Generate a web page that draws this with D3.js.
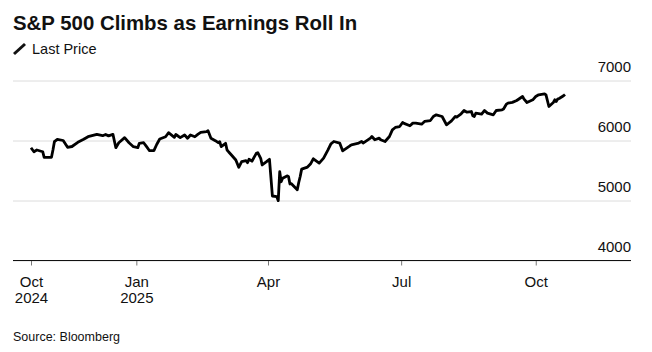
<!DOCTYPE html>
<html>
<head>
<meta charset="utf-8">
<script src="https://cdn.jsdelivr.net/npm/d3@7"></script>
<style>
  body { margin: 0; background: #fff; }
  svg text { font-family: "Liberation Sans", Arial, sans-serif; fill: #111; }
</style>
</head>
<body>
<div id="chart"></div>
<script>
// S&P 500 last price
const dates = [
  "2024-10-21","2024-10-23","2024-10-25","2024-10-29","2024-10-30","2024-11-04","2024-11-05","2024-11-06",
  "2024-11-08","2024-11-12","2024-11-15","2024-11-18","2024-11-22","2024-11-26","2024-11-29","2024-12-05",
  "2024-12-09","2024-12-11","2024-12-13","2024-12-16","2024-12-18","2024-12-20","2024-12-24","2024-12-27",
  "2024-12-30","2025-01-02","2025-01-03","2025-01-06","2025-01-08","2025-01-10","2025-01-13","2025-01-15",
  "2025-01-17","2025-01-21","2025-01-23","2025-01-27","2025-01-28","2025-01-31","2025-02-03","2025-02-05",
  "2025-02-07","2025-02-10","2025-02-12","2025-02-14","2025-02-18","2025-02-19","2025-02-21","2025-02-24",
  "2025-02-26","2025-02-27","2025-02-28","2025-03-03","2025-03-04","2025-03-05","2025-03-07","2025-03-10",
  "2025-03-12","2025-03-14","2025-03-17","2025-03-18","2025-03-19","2025-03-21","2025-03-24","2025-03-25",
  "2025-03-27","2025-03-28","2025-03-31","2025-04-02","2025-04-03","2025-04-04","2025-04-07","2025-04-08",
  "2025-04-09","2025-04-10","2025-04-11","2025-04-14","2025-04-15","2025-04-16","2025-04-17","2025-04-21",
  "2025-04-22","2025-04-23","2025-04-24","2025-04-28","2025-04-30","2025-05-02","2025-05-06","2025-05-09",
  "2025-05-12","2025-05-14","2025-05-16","2025-05-20","2025-05-22","2025-05-27","2025-05-28","2025-06-02",
  "2025-06-04","2025-06-05","2025-06-09","2025-06-10","2025-06-11","2025-06-13","2025-06-16","2025-06-17",
  "2025-06-20","2025-06-23","2025-06-25","2025-06-27","2025-06-30","2025-07-02","2025-07-03","2025-07-07",
  "2025-07-09","2025-07-11","2025-07-15","2025-07-17","2025-07-21","2025-07-23","2025-07-25","2025-07-29",
  "2025-08-01","2025-08-04","2025-08-05","2025-08-07","2025-08-08","2025-08-11","2025-08-13","2025-08-15",
  "2025-08-18","2025-08-19","2025-08-20","2025-08-21","2025-08-25","2025-08-27","2025-08-29","2025-09-02",
  "2025-09-04","2025-09-08","2025-09-09","2025-09-11","2025-09-12","2025-09-15","2025-09-18","2025-09-22",
  "2025-09-23","2025-09-25","2025-09-29","2025-10-01","2025-10-03","2025-10-07","2025-10-08","2025-10-10",
  "2025-10-13","2025-10-14","2025-10-15","2025-10-16","2025-10-17","2025-10-20","2025-10-21"
];
const prices = [
  5880,5813,5842,5813,5720,5720,5842,5980,
  6020,6000,5887,5900,5970,6020,6063,6103,
  6080,6100,6077,6103,5880,5963,6047,5963,
  5897,5880,5953,5963,5897,5830,5830,5937,
  6025,6063,6130,6053,6100,6047,6092,6037,
  6092,6063,6103,6137,6147,6163,6037,5997,
  5963,5980,5897,5953,5842,5813,5758,5675,
  5553,5647,5663,5630,5687,5655,5786,5797,
  5703,5592,5647,5687,5380,5075,5065,4997,
  5480,5313,5370,5410,5400,5275,5280,5178,
  5300,5400,5523,5557,5607,5695,5623,5707,
  5845,5945,5983,5957,5828,5912,5928,5957,
  5983,5957,6023,6040,6067,6012,6040,6012,
  5983,6067,6178,6217,6233,6300,6285,6245,
  6290,6290,6272,6317,6333,6400,6428,6400,
  6262,6317,6345,6400,6390,6445,6500,6472,
  6483,6412,6400,6455,6440,6500,6457,6428,
  6500,6512,6525,6607,6623,6635,6667,6733,
  6690,6633,6678,6733,6762,6778,6760,6567,
  6633,6678,6650,6690,6700,6745,6767
];
const yTicks = [4000, 5000, 6000, 7000];
const xTickDates = ["2024-10-21", "2025-01-01", "2025-04-01", "2025-07-01", "2025-10-01"];
const xTickLabels = [["Oct", "2024"], ["Jan", "2025"], ["Apr"], ["Jul"], ["Oct"]];

const parseDate = d3.timeParse("%Y-%m-%d");
const data = dates.map((d, i) => ({ date: parseDate(d), value: prices[i] }));

const width = 652, height = 352;
const gridLeft = 13, gridRight = 631;   // gridline extent
const plotTop = 80.5, plotBottom = 260.5;

const svg = d3.select("#chart").append("svg")
  .attr("width", width)
  .attr("height", height);

// Title + legend
svg.append("text")
  .attr("x", 13).attr("y", 30)
  .attr("font-size", 20.4).attr("font-weight", 700)
  .text("S&P 500 Climbs as Earnings Roll In");

svg.append("line")
  .attr("x1", 14).attr("y1", 54).attr("x2", 25).attr("y2", 44)
  .attr("stroke", "#111").attr("stroke-width", 3).attr("stroke-linecap", "butt");

svg.append("text")
  .attr("x", 32).attr("y", 53.5)
  .attr("font-size", 14.5)
  .text("Last Price");

const x = d3.scaleTime()
  .domain([parseDate("2024-10-21"), parseDate("2025-10-21")])
  .range([31, 565]);

const y = d3.scaleLinear()
  .domain([4000, 7000])
  .range([plotBottom, plotTop]);

// Gridlines with labels on the right, sitting above each line
const yAxis = svg.append("g")
  .attr("transform", `translate(${gridRight},0)`)
  .call(d3.axisLeft(y).tickValues(yTicks).tickSize(gridRight - gridLeft).tickFormat(d3.format("d")));
yAxis.select(".domain").remove();
yAxis.selectAll("line").attr("stroke", "#dcdcdc");
yAxis.selectAll("text")
  .attr("x", 0).attr("dy", -9.5)
  .attr("text-anchor", "end")
  .attr("font-size", 15)
  .attr("font-family", null)
  .style("fill", "#111");

// Bottom axis
const xAxis = svg.append("g")
  .attr("transform", `translate(0,${plotBottom})`)
  .call(d3.axisBottom(x).tickValues(xTickDates.map(parseDate)).tickSize(5).tickFormat(""));
xAxis.select(".domain").remove();
xAxis.selectAll("line").attr("stroke", "#777");

xAxis.selectAll(".tick").each(function(d, i) {
  const t = d3.select(this).append("text")
    .attr("text-anchor", "middle")
    .attr("font-size", 15)
    .attr("font-family", null)
    .style("fill", "#111");
  xTickLabels[i].forEach((s, j) => {
    t.append("tspan").attr("x", 0).attr("y", 26 + j * 16).text(s);
  });
});

svg.append("line")
  .attr("x1", gridLeft).attr("x2", gridRight)
  .attr("y1", plotBottom).attr("y2", plotBottom)
  .attr("stroke", "#111").attr("stroke-width", 1.2);

// Price line
const line = d3.line()
  .x(d => x(d.date))
  .y(d => y(d.value));

svg.append("path")
  .datum(data)
  .attr("fill", "none")
  .attr("stroke", "#000")
  .attr("stroke-width", 2.8)
  .attr("stroke-linejoin", "round")
  .attr("d", line);

svg.append("text")
  .attr("x", 13).attr("y", 341)
  .attr("font-size", 12.5)
  .text("Source: Bloomberg");
</script>
</body>
</html>
